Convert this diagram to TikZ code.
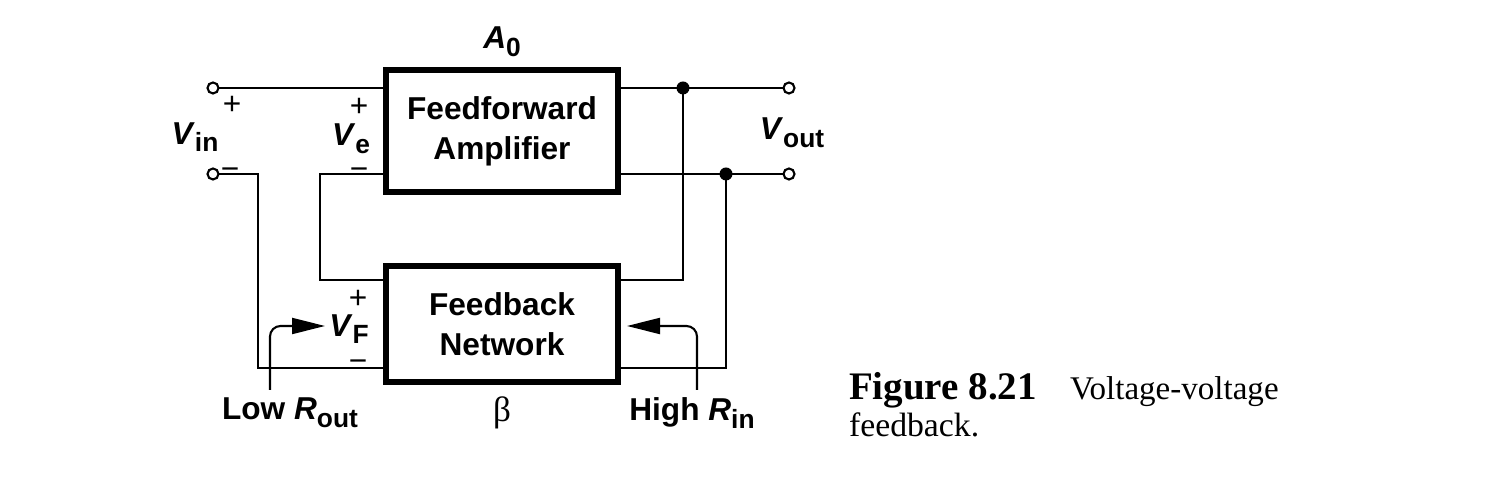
\documentclass[tikz,border=0pt]{standalone}
\usepackage{fontspec}
\setmainfont{Liberation Serif}
\setsansfont{Liberation Sans}
\usetikzlibrary{arrows.meta}

\newcommand{\sig}[2]{\textbf{\textit{#1}}\raisebox{-0.45ex}{\fontsize{7.5}{8}\selectfont\bfseries #2}}

\tikzset{
  blk/.style={draw, line width=1.5pt, inner sep=0pt, align=center,
    font=\sffamily\bfseries\fontsize{9}{11.4}\selectfont},
  term/.style={circle, draw, fill=white, inner sep=0pt, minimum size=0.11cm, line width=0.6pt},
  jdot/.style={circle, fill, inner sep=0pt, minimum size=0.13cm},
  lbl/.style={inner sep=0pt, font=\sffamily\fontsize{9}{11}\selectfont},
  sgn/.style={lbl, anchor=base},
  ptr/.style={-{Triangle[length=3.3mm,width=1.6mm]}, rounded corners=3pt}
}

\begin{document}
\begin{tikzpicture}[line width=0.6pt]
    \useasboundingbox (0,0) rectangle (14.97,4.77);

    % the two boxes
    \node[blk, minimum width=2.32cm, minimum height=1.22cm] (ffa) at (5.02,3.46) {Feedforward\\Amplifier};
    \node[blk, minimum width=2.32cm, minimum height=1.16cm] (fbn) at (5.02,1.53) {Feedback\\Network};

    % terminals and junctions
    \coordinate (vinp) at (2.13,3.89);
    \coordinate (vinm) at (2.13,3.03);
    \coordinate (voutp) at (7.89,3.89);
    \coordinate (voutm) at (7.89,3.03);
    \coordinate (ja) at (6.83,3.89);
    \coordinate (jb) at (7.26,3.03);
    \coordinate (fbp) at (3.20,1.97);
    \coordinate (fbm) at (2.58,1.09);

    % input side
    \draw (vinp) -- (vinp -| ffa.west);
    \draw (vinm) -| (fbm) -- (fbm -| fbn.west);
    \draw (ffa.west |- vinm) -| (fbp) -- (fbp -| fbn.west);

    % output side
    \draw (ffa.east |- voutp) -- (voutp);
    \draw (ffa.east |- voutm) -- (voutm);
    \draw (ja) |- (fbn.east |- fbp);
    \draw (jb) |- (fbn.east |- fbm);
    \node[jdot] (da) at (ja) {};
    \node[jdot] (db) at (jb) {};
    \node[term] (tinp) at (vinp) {};
    \node[term] (tinm) at (vinm) {};
    \node[term] (toutp) at (voutp) {};
    \node[term] (toutm) at (voutm) {};

    % impedance pointers
    \coordinate (lowend) at (2.70,0.87);
    \coordinate (lowtip) at (3.25,1.51);
    \coordinate (highend) at (6.97,0.87);
    \coordinate (hightip) at (6.27,1.51);
    \draw[ptr] (lowend) |- (lowtip);
    \draw[ptr] (highend) |- (hightip);

    % labels
    \node[lbl] (a0) at (5.02,4.35) {\sig{A}{0}};
    \node[sgn] (pin) at (2.32,3.62) {+};
    \node[lbl] (vin) at (1.95,3.40) {\sig{V}{in}};
    \node[sgn] (min) at (2.30,2.97) {−};
    \node[sgn] (pe) at (3.59,3.60) {+};
    \node[lbl] (ve) at (3.51,3.38) {\sig{V}{e}};
    \node[sgn] (me) at (3.59,2.97) {−};
    \node[sgn] (pf) at (3.58,1.68) {+};
    \node[lbl] (vf) at (3.49,1.48) {\sig{V}{F}};
    \node[sgn] (mf) at (3.58,1.05) {−};
    \node[lbl] (vout) at (7.92,3.44) {\sig{V}{out}};
    \node[lbl] (low) at (2.90,0.64) {\textbf{Low }\sig{R}{out}};
    \node[lbl] (high) at (6.92,0.64) {\textbf{High }\sig{R}{in}};
    \node[inner sep=0pt, font=\fontsize{10}{12}\selectfont] (beta) at (5.02,0.64) {β};

    % caption
    \node[inner sep=0pt, anchor=base west, font=\fontsize{11.1}{12}\selectfont] (cap1) at (8.48,0.77)
      {\textbf{Figure 8.21}\hspace{0.85em}{\fontsize{9.4}{12}\selectfont Voltage-voltage}};
    \node[inner sep=0pt, anchor=base west, font=\fontsize{9.6}{12}\selectfont] (cap2) at (8.48,0.40) {feedback.};
\end{tikzpicture}
\end{document}
